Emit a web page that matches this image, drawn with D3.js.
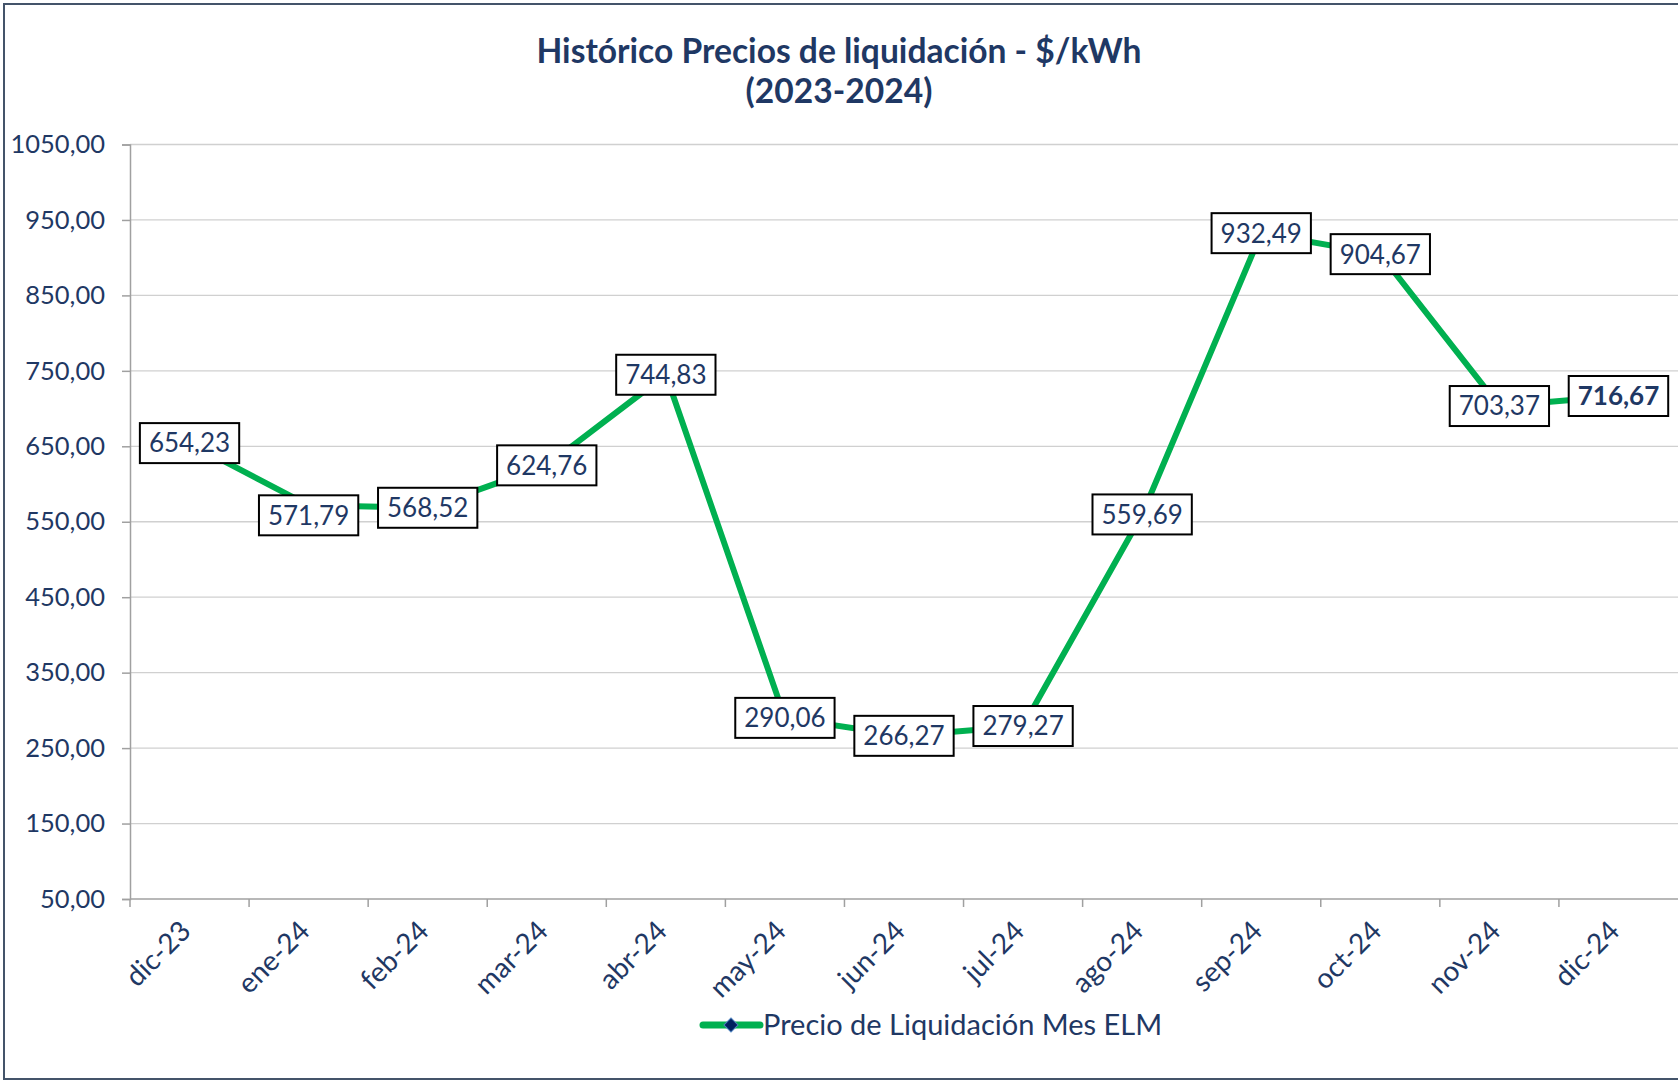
<!DOCTYPE html>
<html>
<head>
<meta charset="utf-8">
<script src="https://cdn.jsdelivr.net/npm/d3@7"></script>
<style>
  html, body { margin: 0; padding: 0; background: #fff; }
  svg { display: block; font-family: "Lato", "DejaVu Sans", sans-serif; }
</style>
</head>
<body>
<svg id="chart" width="1678" height="1081"></svg>
<script>
// --- data ---
const months = ["dic-23", "ene-24", "feb-24", "mar-24", "abr-24", "may-24", "jun-24",
                "jul-24", "ago-24", "sep-24", "oct-24", "nov-24", "dic-24"];
const prices = [654.23, 571.79, 568.52, 624.76, 744.83, 290.06, 266.27,
                279.27, 559.69, 932.49, 904.67, 703.37, 716.67];
const yTicks = [50, 150, 250, 350, 450, 550, 650, 750, 850, 950, 1050];
const titleLines = ["Histórico Precios de liquidación - $/kWh", "(2023-2024)"];
const seriesName = "Precio de Liquidación Mes ELM";

const navy = "#1f3864";
const green = "#00b050";

const svg = d3.select("#chart");
const margin = { top: 144.5, left: 130, right: 0, bottom: 182 };
const width = +svg.attr("width");
const height = +svg.attr("height");
const innerBottom = height - margin.bottom;

// chart border (right side runs off the picture)
svg.append("rect")
  .attr("x", 4).attr("y", 4)
  .attr("width", width + 20).attr("height", height - 6)
  .attr("fill", "none")
  .attr("stroke", "#44546a")
  .attr("stroke-width", 2);

// title
svg.append("g").selectAll("text").data(titleLines).join("text")
  .attr("x", width / 2)
  .attr("y", (d, i) => 63 + i * 40)
  .attr("text-anchor", "middle")
  .attr("font-size", 33.6)
  .attr("font-weight", "bold")
  .attr("fill", navy)
  .text(d => d);

const x = d3.scaleBand().domain(months).range([margin.left, width - margin.right]);
const y = d3.scaleLinear().domain([50, 1050]).range([innerBottom, margin.top]);
const cx = d => x(d) + x.bandwidth() / 2;

const fmt = d3.formatLocale({ decimal: ",", thousands: "", grouping: [3], currency: ["$", ""] }).format(".2f");

// gridlines
svg.append("g").selectAll("line").data(yTicks.slice(1)).join("line")
  .attr("x1", margin.left).attr("x2", width)
  .attr("y1", d => y(d)).attr("y2", d => y(d))
  .attr("stroke", "#d0d0d0").attr("stroke-width", 1.3);

// y axis
const gY = svg.append("g")
  .attr("transform", `translate(${margin.left},0)`)
  .call(d3.axisLeft(y).tickValues(yTicks).tickFormat(fmt).tickSize(8).tickPadding(17));
gY.select(".domain").attr("stroke", "#a0a0a0").attr("stroke-width", 1.5);
gY.selectAll(".tick line").attr("stroke", "#a0a0a0").attr("stroke-width", 1.5);
gY.selectAll(".tick text")
  .attr("font-family", "Lato, sans-serif")
  .attr("font-size", 25.5)
  .attr("fill", navy);

// x axis: ticks between categories
const gX = svg.append("g");
gX.append("line")
  .attr("x1", margin.left).attr("x2", width)
  .attr("y1", innerBottom).attr("y2", innerBottom)
  .attr("stroke", "#a0a0a0").attr("stroke-width", 1.5);
gX.selectAll("line.tick").data(months).join("line")
  .attr("class", "tick")
  .attr("x1", d => x(d)).attr("x2", d => x(d))
  .attr("y1", innerBottom).attr("y2", innerBottom + 8)
  .attr("stroke", "#a0a0a0").attr("stroke-width", 1.5);
gX.selectAll("text").data(months).join("text")
  .attr("transform", d => `translate(${cx(d) - 12},${innerBottom + 19}) rotate(-45)`)
  .attr("text-anchor", "end")
  .attr("dy", "0.75em")
  .attr("font-size", 28)
  .attr("fill", navy)
  .text(d => d);

// line
const line = d3.line()
  .x((d, i) => cx(months[i]))
  .y(d => y(d));
svg.append("path")
  .datum(prices)
  .attr("fill", "none")
  .attr("stroke", green)
  .attr("stroke-width", 6)
  .attr("stroke-linejoin", "round")
  .attr("d", line);

// data labels (boxed, centred on the points)
const labelShift = { 1: 10 };
const labels = svg.append("g").selectAll("g").data(prices).join("g")
  .attr("transform", (d, i) => `translate(${cx(months[i])},${y(d) + (labelShift[i] || 0)})`);
labels.append("rect");
labels.append("text")
  .attr("text-anchor", "middle")
  .attr("dy", "0.36em")
  .attr("font-size", 26)
  .attr("font-weight", (d, i) => i === prices.length - 1 ? "bold" : "normal")
  .attr("fill", navy)
  .text(d => fmt(d));
labels.each(function () {
  const g = d3.select(this);
  const bb = g.select("text").node().getBBox();
  const w = bb.width + 18, h = 40;
  g.select("rect")
    .attr("x", -w / 2).attr("y", -h / 2)
    .attr("width", w).attr("height", h)
    .attr("fill", "#fff")
    .attr("stroke", "#000")
    .attr("stroke-width", 2);
});

// legend
const lg = svg.append("g").attr("transform", "translate(703,1025)");
lg.append("line")
  .attr("x1", 0).attr("x2", 57)
  .attr("stroke", green).attr("stroke-width", 7).attr("stroke-linecap", "round");
lg.append("path")
  .attr("d", d3.symbol(d3.symbolSquare, 100))
  .attr("transform", "translate(28,0) rotate(45)")
  .attr("fill", "#002060")
  .attr("stroke", "#4f81bd").attr("stroke-width", 1);
lg.append("text")
  .attr("x", 60).attr("dy", "0.36em")
  .attr("font-size", 29)
  .attr("fill", navy)
  .text(seriesName);
</script>
</body>
</html>
